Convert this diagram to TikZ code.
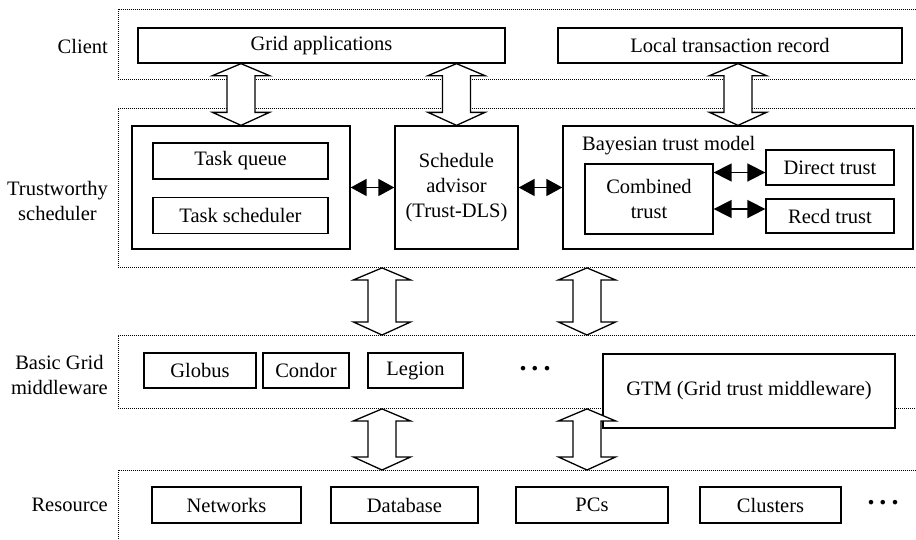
\documentclass[tikz,border=0pt]{standalone}
\usepackage{fontspec}
\setmainfont{Liberation Serif}
\usetikzlibrary{arrows.meta, positioning, calc}

\begin{document}
\begin{tikzpicture}[
    x=1pt, y=-1pt,
    font=\fontsize{20.5}{25}\selectfont,
    box/.style={
        rectangle, draw, fill=white,
        line width=1.3pt, inner sep=0pt,
        align=center
    },
    layer/.style={
        rectangle, draw, line width=0.9pt,
        dash pattern=on 1pt off 1pt,
        anchor=north west, inner sep=0pt
    },
    layerlabel/.style={anchor=east, align=center, inner sep=0pt},
    dots/.style={inner sep=0pt, font=\fontsize{28}{28}\selectfont\bfseries},
    arr/.style={
        {Triangle[length=16pt,width=17pt]}-{Triangle[length=16pt,width=17pt]},
        line width=1.6pt
    },
    arrbig/.style={
        {Triangle[length=18pt,width=18pt]}-{Triangle[length=18pt,width=18pt]},
        line width=1.6pt
    },
    fatarr/.style={
        draw, fill=white, line width=1.3pt,
        to path={let \p1=(\tikztostart), \p2=(\tikztotarget) in
            (\x1,\y1) -- ({\x1+28.5pt},{\y1-12pt}) -- ({\x1+14pt},{\y1-12pt})
            -- ({\x1+14pt},{\y2+13pt}) -- ({\x1+28.5pt},{\y2+13pt}) -- (\x1,\y2)
            -- ({\x1-28.5pt},{\y2+13pt}) -- ({\x1-14pt},{\y2+13pt})
            -- ({\x1-14pt},{\y1-12pt}) -- ({\x1-28.5pt},{\y1-12pt}) -- cycle}
    },
]
\useasboundingbox (0,0) rectangle (916,539);

% LAYERS
\node[layer, minimum width=830pt, minimum height=70pt]  (client) at (118,9)   {};
\node[layer, minimum width=830pt, minimum height=159pt] (trust)  at (118,108) {};
\node[layer, minimum width=830pt, minimum height=73pt]  (mid)    at (118,335) {};
\node[layer, minimum width=830pt, minimum height=100pt] (res)    at (118,470) {};

\node[layerlabel] (client-lbl) at (108,46)  {Client};
\node[layerlabel] (trust-lbl)  at (108,201) {Trustworthy\\scheduler};
\node[layerlabel] (mid-lbl)    at (108,375) {Basic Grid\\middleware};
\node[layerlabel] (res-lbl)    at (108,505) {Resource};

% ROW 1
\node[box, minimum width=367pt, minimum height=35pt] (gridapp) at (321.5,45.5) {Grid applications};
\node[box, minimum width=344pt, minimum height=35pt] (local)   at (730,45.5)   {Local transaction record};

% ROW 2
\node[box, minimum width=218pt, minimum height=123pt] (sched) at (241,187.5) {};
\node[box, minimum width=175pt, minimum height=36pt] (queue) at (240.5,161) {Task queue};
\node[box, minimum width=175pt, minimum height=36pt, below=17pt of queue] (tasksched) {Task scheduler};

\node[box, minimum width=123pt, minimum height=123pt] (advisor) at (456.5,187.5) {Schedule\\advisor\\(Trust-DLS)};

\node[box, minimum width=350pt, minimum height=123pt] (bayes) at (738,187.5) {};
\node[anchor=west, inner sep=0pt] (bayes-lbl) at (582,146) {Bayesian trust model};
\node[box, minimum width=128pt, minimum height=70pt] (combined) at (649,199)   {Combined\\trust};
\node[box, minimum width=128pt, minimum height=35pt] (direct)   at (830,167.5) {Direct trust};
\node[box, minimum width=128pt, minimum height=34pt] (recd)     at (830,216)   {Recd trust};

\draw[arr] (sched) -- (advisor);
\draw[arr] (advisor) -- (bayes);
\draw[arrbig] ($(combined.east |- direct.west)+(0,5)$) -- ($(direct.west)+(0,5)$);
\draw[arrbig] ($(combined.east |- recd.west)+(0,-7)$) -- ($(recd.west)+(0,-7)$);

% ROW 3
\node[box, minimum width=112pt, minimum height=35pt] (globus) at (200,370.5)   {Globus};
\node[box, minimum width=86pt,  minimum height=35pt] (condor) at (306,370.5)   {Condor};
\node[box, minimum width=95pt,  minimum height=35pt] (legion) at (415.5,370.5) {Legion};
\node[dots] (mid-dots) at (535,369) {.\hspace{5pt}.\hspace{5pt}.};
\node[box, minimum width=292pt, minimum height=74pt] (gtm) at (749,391) {GTM (Grid trust middleware)};

% ROW 4
\node[box, minimum width=149pt, minimum height=36pt] (networks) at (226.5,505) {Networks};
\node[box, minimum width=147pt, minimum height=36pt] (database) at (404.5,505) {Database};
\node[box, minimum width=152pt, minimum height=36pt] (pcs)      at (592,505)   {PCs};
\node[box, minimum width=141pt, minimum height=36pt] (clusters) at (770.5,505) {Clusters};
\node[dots] (res-dots) at (883,503) {.\hspace{5pt}.\hspace{5pt}.};

% Layer-to-layer arrows
\coordinate (col-a) at (382,0);
\coordinate (col-b) at (587,0);

\draw[fatarr] (gridapp.south -| sched.north) to (sched.north);
\draw[fatarr] (gridapp.south -| advisor.north) to (advisor.north);
\draw[fatarr] (local.south -| bayes.north) to (bayes.north);
\draw[fatarr] (trust.south -| col-a) to (mid.north -| col-a);
\draw[fatarr] (trust.south -| col-b) to (mid.north -| col-b);
\draw[fatarr] (mid.south -| col-a) to (res.north -| col-a);
\draw[fatarr] (mid.south -| col-b) to (res.north -| col-b);

\end{tikzpicture}
\end{document}
